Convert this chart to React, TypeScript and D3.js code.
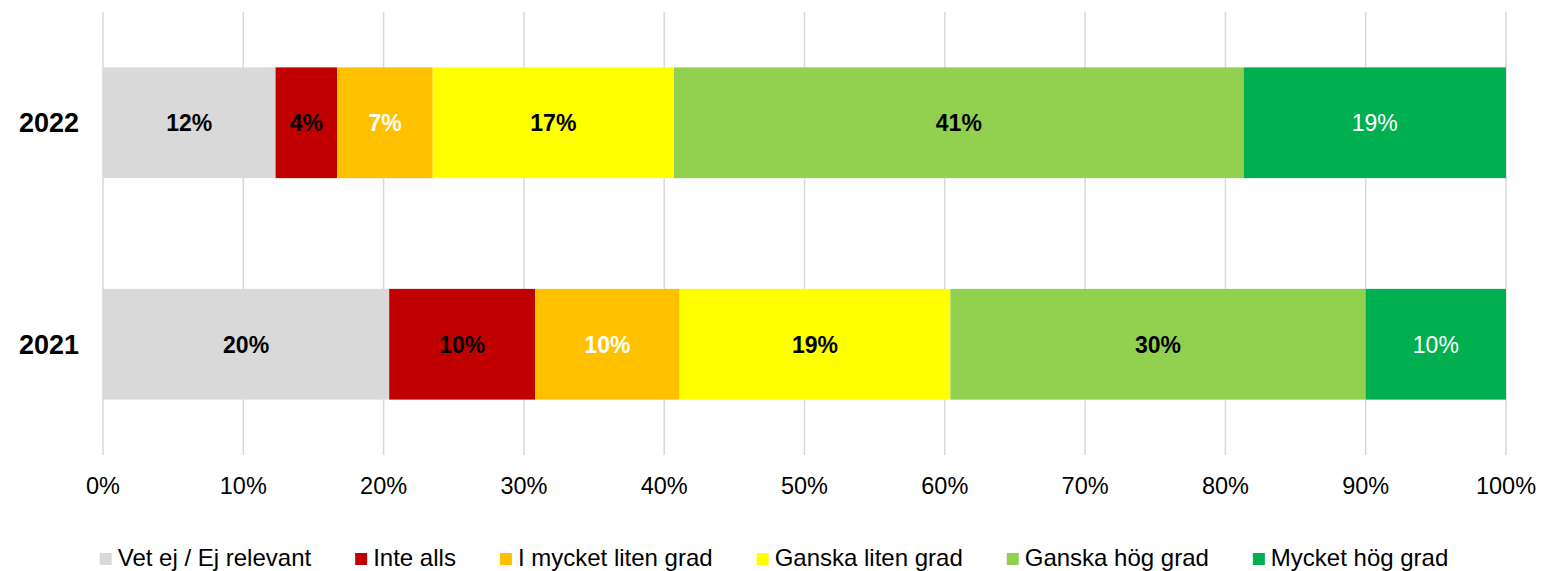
import React, { useEffect, useRef } from 'react';
import * as d3 from 'd3';

const years = ['2022', '2021'];
const seriesNames = [
  'Vet ej / Ej relevant',
  'Inte alls',
  'I mycket liten grad',
  'Ganska liten grad',
  'Ganska hög grad',
  'Mycket hög grad',
];
const values2022 = [12.3, 4.4, 6.8, 17.2, 40.6, 18.7];
const values2021 = [20.4, 10.4, 10.3, 19.3, 29.6, 10.0];
const colors = ['#D9D9D9', '#C00000', '#FFC000', '#FFFF00', '#92D050', '#00B050'];
const labelColors = ['#000', '#000', '#fff', '#000', '#000', '#fff'];
const labelWeights = ['bold', 'bold', 'bold', 'bold', 'bold', 'normal'];
const ticks = [0, 10, 20, 30, 40, 50, 60, 70, 80, 90, 100];

const FONT = '"Liberation Sans", Arial, sans-serif';

function App() {
  const svgRef = useRef<SVGSVGElement>(null);

  useEffect(() => {
    const svg = d3.select(svgRef.current);
    svg.selectAll('*').remove();

    const width = 1542;
    const height = 571;
    svg.attr('width', width).attr('height', height).style('font-family', FONT);

    const x = d3.scaleLinear().domain([0, 100]).range([103, 1506]);
    const y = d3.scaleBand().domain(years).range([12, 455]).paddingInner(0.5).paddingOuter(0.25);

    // grid
    svg.append('g')
      .selectAll('line')
      .data(ticks)
      .join('line')
      .attr('x1', d => x(d)).attr('x2', d => x(d))
      .attr('y1', 12).attr('y2', 455)
      .attr('stroke', '#D9D9D9')
      .attr('stroke-width', 1.5);

    // tick labels
    svg.append('g')
      .selectAll('text')
      .data(ticks)
      .join('text')
      .attr('x', d => x(d))
      .attr('y', 494)
      .attr('text-anchor', 'middle')
      .attr('font-size', 23.5)
      .attr('fill', '#000')
      .text(d => `${d}%`);

    const rows = [values2022, values2021];
    rows.forEach((vals, i) => {
      const year = years[i];
      let acc = 0;
      const segs = vals.map((v, j) => {
        const s = { j, v, x0: acc, x1: acc + v };
        acc += v;
        return s;
      });
      const g = svg.append('g');
      g.selectAll('rect')
        .data(segs)
        .join('rect')
        .attr('x', d => x(d.x0))
        .attr('width', d => x(d.x1) - x(d.x0))
        .attr('y', y(year)!)
        .attr('height', y.bandwidth())
        .attr('fill', d => colors[d.j]);
      g.selectAll('text')
        .data(segs)
        .join('text')
        .attr('x', d => (x(d.x0) + x(d.x1)) / 2)
        .attr('y', y(year)! + y.bandwidth() / 2)
        .attr('dy', '0.36em')
        .attr('text-anchor', 'middle')
        .attr('font-size', 23)
        .attr('font-weight', d => labelWeights[d.j])
        .attr('fill', d => labelColors[d.j])
        .text(d => `${Math.round(d.v)}%`);

      svg.append('text')
        .attr('x', 79)
        .attr('y', y(year)! + y.bandwidth() / 2)
        .attr('dy', '0.36em')
        .attr('text-anchor', 'end')
        .attr('font-size', 27)
        .attr('font-weight', 'bold')
        .attr('fill', '#000')
        .text(year);
    });

    // legend
    const legend = svg.append('g');
    let cx = 0;
    seriesNames.forEach((name, i) => {
      const item = legend.append('g').attr('transform', `translate(${cx},0)`);
      item.append('rect')
        .attr('x', 0).attr('y', 553)
        .attr('width', 12).attr('height', 12)
        .attr('fill', colors[i]);
      const t = item.append('text')
        .attr('x', 18).attr('y', 566)
        .attr('font-size', 24)
        .attr('fill', '#000')
        .text(name);
      const w = (t.node() as SVGTextElement).getComputedTextLength();
      cx += 18 + w + 44;
    });
    const total = cx - 44;
    legend.attr('transform', `translate(${(width - total) / 2 + 3},0)`);
  }, []);

  return <svg ref={svgRef} style={{ display: 'block', position: 'absolute', left: 0, top: 0 }}></svg>;
}

export default App;
